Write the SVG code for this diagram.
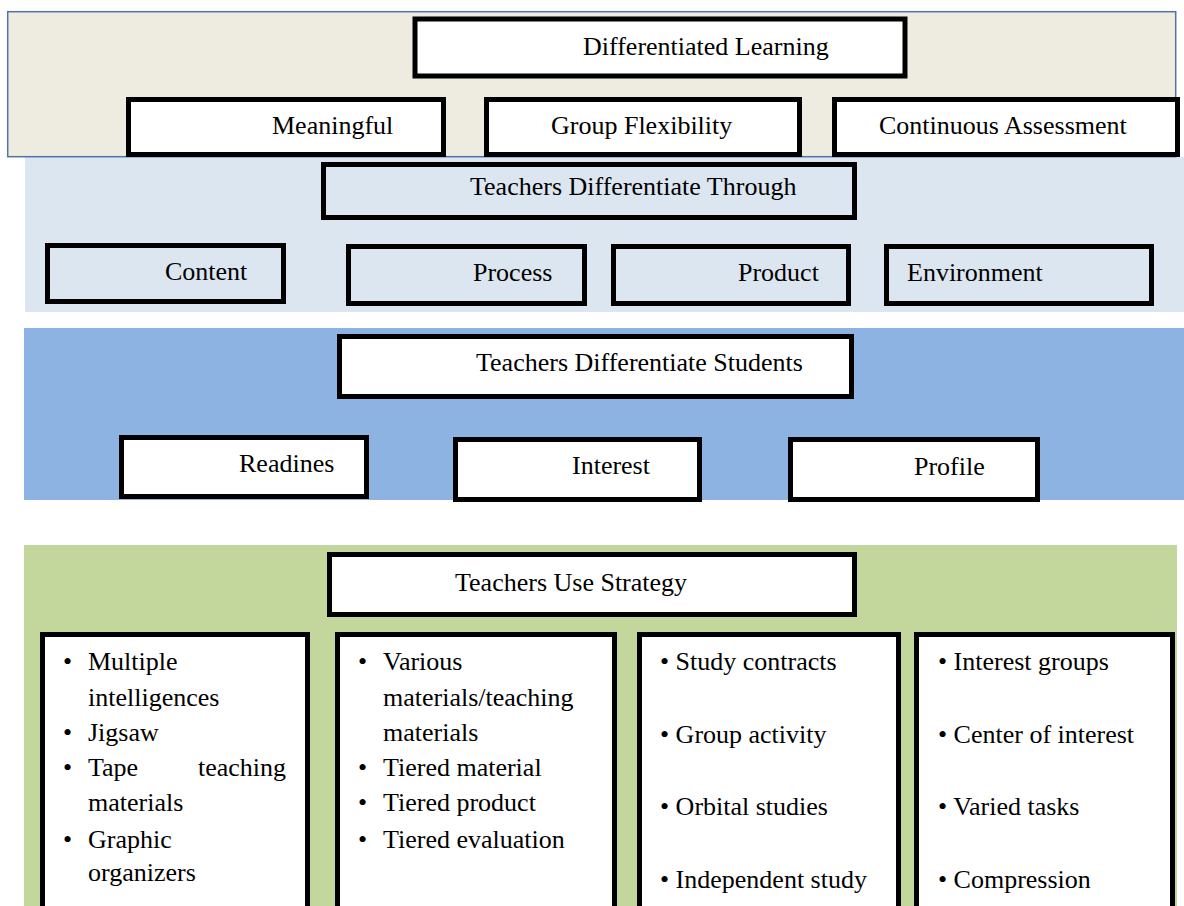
<svg xmlns="http://www.w3.org/2000/svg" width="1184" height="906" viewBox="0 0 1184 906" font-family="Liberation Serif, serif" font-size="26">
<style>
.b{stroke:#000;stroke-width:5;fill:#fff}
.bl{stroke:#000;stroke-width:5;fill:#dce6f1}
</style>
<rect width="1184" height="906" fill="#fff"/>
<g id="panels">
<rect x="25" y="157" width="1159" height="155" fill="#dce6f1"/>
<rect x="7.7" y="11.7" width="1168" height="145" fill="#eeebe0" stroke="#4f74a8" stroke-width="1.5"/>
<rect x="24" y="328" width="1160" height="172" fill="#8db3e2"/>
<rect x="24" y="545" width="1153" height="361" fill="#c3d69b"/>
</g>
<g id="connectors"></g>
<g id="n-dl"><rect class="b" x="415" y="19" width="490" height="57"/><text x="583" y="55">Differentiated Learning</text></g>
<g id="n-meaningful"><rect class="b" x="128.5" y="99.5" width="315" height="55"/><text x="272" y="134">Meaningful</text></g>
<g id="n-group"><rect class="b" x="486.5" y="99.5" width="313" height="55"/><text x="551" y="134">Group Flexibility</text></g>
<g id="n-cont"><rect class="b" x="834.5" y="99.5" width="343" height="55"/><text x="879" y="134">Continuous Assessment</text></g>
<g id="n-through"><rect class="bl" x="323.5" y="164.5" width="531" height="53"/><text x="470" y="195">Teachers Differentiate Through</text></g>
<g id="n-content"><rect class="bl" x="47.5" y="245.5" width="236" height="56"/><text x="165" y="280">Content</text></g>
<g id="n-process"><rect class="bl" x="348.5" y="246.5" width="236" height="57"/><text x="473" y="281">Process</text></g>
<g id="n-product"><rect class="bl" x="613.5" y="246.5" width="235" height="57"/><text x="738" y="281">Product</text></g>
<g id="n-env"><rect class="bl" x="886.5" y="246.5" width="265" height="57"/><text x="907" y="281">Environment</text></g>
<g id="n-students"><rect class="b" x="339.5" y="336.5" width="512" height="60"/><text x="476" y="371">Teachers Differentiate Students</text></g>
<g id="n-readines"><rect class="b" x="121.5" y="437.5" width="245" height="59"/><text x="239" y="472">Readines</text></g>
<g id="n-interest"><rect class="b" x="455.5" y="439.5" width="244" height="60"/><text x="572" y="474">Interest</text></g>
<g id="n-profile"><rect class="b" x="790.5" y="439.5" width="247" height="60"/><text x="914" y="475">Profile</text></g>
<g id="n-strategy"><rect class="b" x="329.5" y="554.5" width="525" height="60"/><text x="455" y="591">Teachers Use Strategy</text></g>
<g id="n-col1"><rect class="b" x="42.5" y="634.5" width="265" height="300"/>
<text x="63" y="670">•</text><text x="88" y="670">Multiple</text>
<text x="88" y="706">intelligences</text>
<text x="63" y="741">•</text><text x="88" y="741">Jigsaw</text>
<text x="63" y="776">•</text><text x="88" y="776">Tape</text><text x="286" y="776" text-anchor="end">teaching</text>
<text x="88" y="811">materials</text>
<text x="63" y="848">•</text><text x="88" y="848">Graphic</text>
<text x="88" y="881">organizers</text>
</g>
<g id="n-col2"><rect class="b" x="337.5" y="634.5" width="277" height="300"/>
<text x="358" y="670">•</text><text x="383" y="670">Various</text>
<text x="383" y="706">materials/teaching</text>
<text x="383" y="741">materials</text>
<text x="358" y="776">•</text><text x="383" y="776">Tiered material</text>
<text x="358" y="811">•</text><text x="383" y="811">Tiered product</text>
<text x="358" y="848">•</text><text x="383" y="848">Tiered evaluation</text>
</g>
<g id="n-col3"><rect class="b" x="639.5" y="634.5" width="259" height="300"/>
<text x="660" y="670">• Study contracts</text>
<text x="660" y="743">• Group activity</text>
<text x="660" y="815">• Orbital studies</text>
<text x="660" y="888">• Independent study</text>
</g>
<g id="n-col4"><rect class="b" x="916.5" y="634.5" width="256" height="300"/>
<text x="938" y="670">• Interest groups</text>
<text x="938" y="743">• Center of interest</text>
<text x="938" y="815">• Varied tasks</text>
<text x="938" y="888">• Compression</text>
</g>
</svg>
